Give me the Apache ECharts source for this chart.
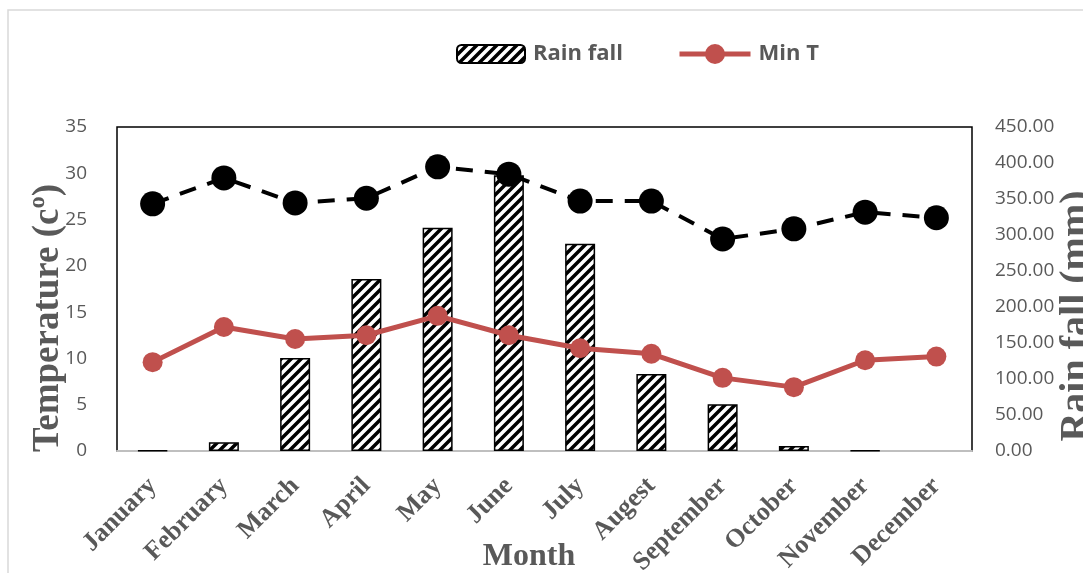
<!DOCTYPE html>
<html>
<head>
<meta charset="utf-8">
<script src="https://cdn.jsdelivr.net/npm/echarts@6/dist/echarts.min.js"></script>
<style>
html,body{margin:0;padding:0;background:#fff;}
#chart{width:1083px;height:573px;}
</style>
</head>
<body>
<div id="chart"></div>
<script>
var months = ['January','February','March','April','May','June','July','Augest','September','October','November','December'];
var rainFall = [0.8, 12, 129, 239, 310, 383, 288, 107, 65, 7, 0.8, 0];
var maxT = [26.7, 29.5, 26.8, 27.3, 30.7, 29.9, 27.0, 27.0, 22.9, 24.0, 25.8, 25.2];
var minT = [9.6, 13.4, 12.1, 12.5, 14.6, 12.5, 11.1, 10.5, 7.9, 6.9, 9.8, 10.2];
var tempTicks = {min: 0, max: 35, interval: 5};
var rainTicks = {min: 0, max: 450, interval: 50};

function hatch() {
  var s = 10;
  var c = document.createElement('canvas');
  c.width = s; c.height = s;
  var g = c.getContext('2d');
  g.fillStyle = '#fff';
  g.fillRect(0, 0, s, s);
  g.strokeStyle = '#000';
  g.lineWidth = 3.5;
  g.beginPath();
  g.moveTo(-3, s + 3); g.lineTo(s + 3, -3);
  g.moveTo(-3, 3); g.lineTo(3, -3);
  g.moveTo(s - 3, s + 3); g.lineTo(s + 3, s - 3);
  g.stroke();
  return c;
}

var gray = '#595959';
var legendText = {color: gray, fontFamily: 'Open Sans', fontWeight: 'bold', fontSize: 22, padding: [0, 0, 0, 3]};
var rainData = rainFall.map(function (v) {
  return v === 0 ? {value: v, itemStyle: {borderWidth: 0}} : v;
});
var chart = echarts.init(document.getElementById('chart'));
chart.setOption({
  animation: false,
  backgroundColor: '#fff',
  grid: {left: 117, right: 111, top: 127, bottom: 122, containLabel: false, outerBoundsMode: 'none',
         show: true, borderColor: '#000', borderWidth: 1.5, backgroundColor: 'transparent'},
  legend: [
    {data: ['Rain fall'], left: 451, top: 38, itemWidth: 68, itemHeight: 18, textStyle: legendText},
    {data: ['Min T'], left: 672, top: 38, itemWidth: 71, itemHeight: 25, textStyle: legendText,
     lineStyle: {width: 5}}
  ],
  xAxis: {
    type: 'category',
    data: months,
    axisTick: {show: false},
    axisLine: {lineStyle: {color: '#bfbfbf', width: 2}},
    axisLabel: {interval: 0, rotate: 45, margin: 31, color: gray, fontFamily: 'Liberation Serif', fontWeight: 'bold', fontSize: 26}
  },
  yAxis: [
    {type: 'value', min: tempTicks.min, max: tempTicks.max, interval: tempTicks.interval,
     axisLine: {show: false}, axisTick: {show: false}, splitLine: {show: false},
     axisLabel: {margin: 30, color: gray, fontFamily: 'Open Sans', fontSize: 19}},
    {type: 'value', position: 'right', min: rainTicks.min, max: rainTicks.max, interval: rainTicks.interval,
     axisLine: {show: false}, axisTick: {show: false}, splitLine: {show: false},
     axisLabel: {margin: 23, color: gray, fontFamily: 'Open Sans', fontSize: 19, align: 'left',
       formatter: function (v) { return v.toFixed(2); }}}
  ],
  series: [
    {name: 'Rain fall', type: 'bar', yAxisIndex: 1, data: rainData, barWidth: 30,
     itemStyle: {color: {image: hatch(), repeat: 'repeat'}, borderColor: '#000', borderWidth: 1.5}, z: 2},
    {name: 'Min T', type: 'line', yAxisIndex: 0, data: minT, symbol: 'circle', symbolSize: 20,
     lineStyle: {color: '#c0504d', width: 5}, itemStyle: {color: '#c0504d'}, z: 3},
    {name: 'Max T', type: 'line', yAxisIndex: 0, data: maxT, symbol: 'circle', symbolSize: 25,
     lineStyle: {color: '#000', width: 4, type: [17, 12]}, itemStyle: {color: '#000'}, z: 4}
  ],
  graphic: [
    {type: 'rect', shape: {x: 8, y: 10, width: 1200, height: 700}, style: {fill: 'none', stroke: '#d9d9d9', lineWidth: 1.5}, silent: true, z: -1},
    {type: 'text', x: 48, y: 318, rotation: Math.PI / 2,
     style: {text: 'Temperature (c\u00ba)', fill: gray, font: 'bold 37px "Liberation Serif"', textAlign: 'center', textVerticalAlign: 'middle'}},
    {type: 'text', x: 1077, y: 316, rotation: Math.PI / 2,
     style: {text: 'Rain fall (mm)', fill: gray, font: 'bold 40px "Liberation Serif"', textAlign: 'center', textVerticalAlign: 'middle'}},
    {type: 'text', x: 529, y: 557,
     style: {text: 'Month', fill: gray, font: 'bold 32px "Liberation Serif"', textAlign: 'center', textVerticalAlign: 'middle'}}
  ]
});
</script>
</body>
</html>
